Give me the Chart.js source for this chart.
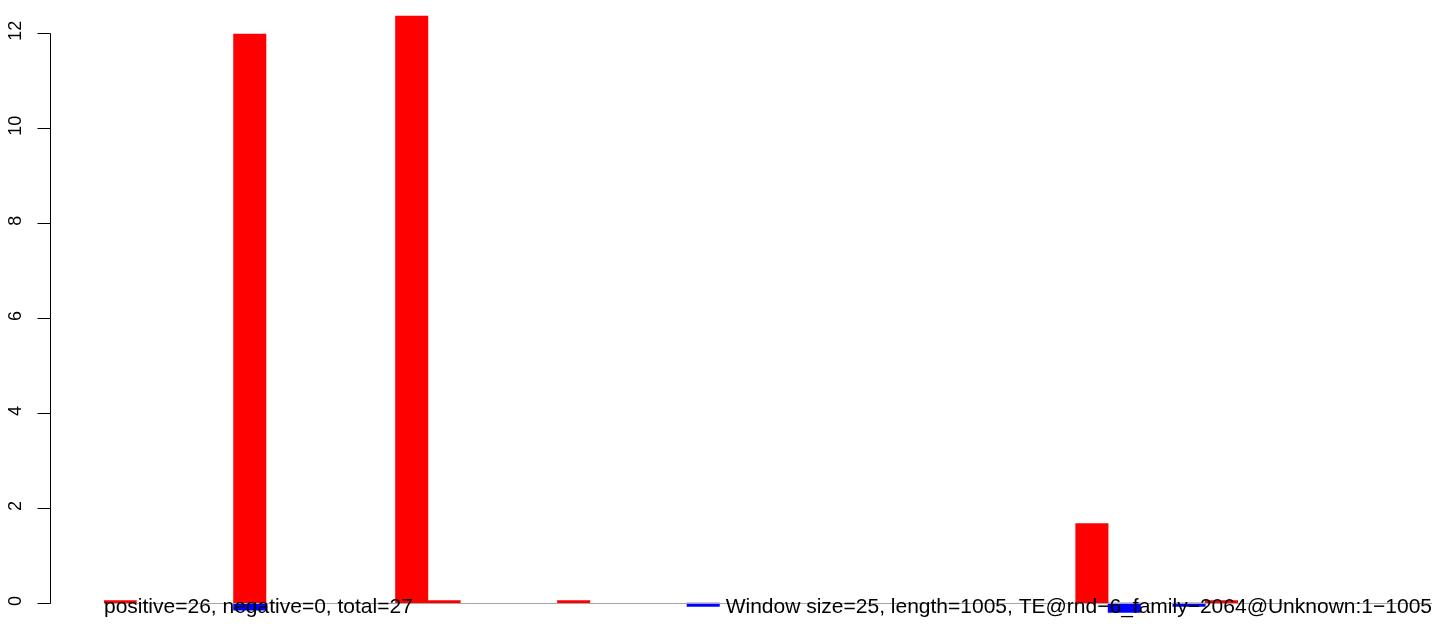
<!DOCTYPE html>
<html lang="en">
<head>
  <meta charset="UTF-8" />
  <title>Window scores</title>
  <script src="https://cdn.jsdelivr.net/npm/chart.js"></script>
  <style>
    html, body { margin: 0; padding: 0; background: #fff; }
    #wrap { width: 1444px; height: 624px; position: relative; }
  </style>
</head>
<body>
  <div id="wrap"><canvas id="scoreChart" width="1444" height="624"></canvas></div>

  <script>
    // one slot per window (41 windows of size 25 over 1005 positions)
    const windows = Array.from({ length: 41 }, (_, i) => "w" + (i + 1));
    const positiveScores = [
      0.05, 0, 0, 0, 11.97, 0, 0, 0, 0, 12.35,
      0.05, 0, 0, 0, 0.05, 0, 0, 0, 0, 0,
      0, 0, 0, 0, 0, 0, 0, 0, 0, 0,
      1.67, 0, 0, 0, 0.05, 0, 0, 0, 0, 0,
      0
    ];
    const negativeScores = [
      0, 0, 0, 0, -0.15, 0, 0, 0, 0, 0,
      0, 0, 0, 0, 0, 0, 0, 0, -0.07, 0,
      0, 0, 0, 0, 0, 0, 0, 0, 0, 0,
      0, -0.2, 0, -0.07, 0, 0, 0, 0, 0, 0,
      0
    ];
    const yTicks = [0, 2, 4, 6, 8, 10, 12];
    const leftLabel = "positive=26, negative=0, total=27";
    const rightLabel = "Window size=25, length=1005, TE@rnd\u22126_family\u22122064@Unknown:1\u22121005";

    const TICK_FONT = "18px 'Liberation Sans', Arial, sans-serif";
    const TEXT_FONT = "21px 'Liberation Sans', Arial, sans-serif";

    // empty windows draw nothing
    const noZero = arr => arr.map(v => (v === 0 ? null : v));

    // R-style axis, zero line and bottom captions
    const rDecor = {
      id: "rDecor",
      afterDatasetsDraw(chart) {
        const { ctx, chartArea, scales } = chart;
        const y = scales.y;
        const y0 = Math.round(y.getPixelForValue(0)) + 0.5;
        ctx.save();
        ctx.strokeStyle = "#a6a6a6";
        ctx.lineWidth = 1;
        ctx.beginPath();
        ctx.moveTo(chartArea.left, y0);
        ctx.lineTo(chartArea.right, y0);
        ctx.stroke();
        ctx.restore();
      },
      afterDraw(chart) {
        const { ctx, chartArea, scales } = chart;
        const y = scales.y;
        const axisX = 50.5;
        ctx.save();
        ctx.strokeStyle = "#000";
        ctx.lineWidth = 1;
        const top = Math.round(y.getPixelForValue(yTicks[yTicks.length - 1])) + 0.5;
        const bot = Math.round(y.getPixelForValue(yTicks[0])) + 0.5;
        ctx.beginPath();
        ctx.moveTo(axisX, top);
        ctx.lineTo(axisX, bot);
        yTicks.forEach(t => {
          const py = Math.round(y.getPixelForValue(t)) + 0.5;
          ctx.moveTo(axisX, py);
          ctx.lineTo(axisX - 13, py);
        });
        ctx.stroke();

        ctx.fillStyle = "#000";
        ctx.font = TICK_FONT;
        ctx.textAlign = "center";
        ctx.textBaseline = "alphabetic";
        yTicks.forEach(t => {
          const py = y.getPixelForValue(t) - 2;
          ctx.save();
          ctx.translate(21, py);
          ctx.rotate(-Math.PI / 2);
          ctx.fillText(String(t), 0, 0);
          ctx.restore();
        });

        ctx.font = TEXT_FONT;
        ctx.textAlign = "left";
        ctx.fillText(leftLabel, chartArea.left, 613);
        ctx.textAlign = "right";
        ctx.fillText(rightLabel, chartArea.right, 613);
        ctx.restore();
      }
    };

    const ctx = document.getElementById("scoreChart").getContext("2d");
    new Chart(ctx, {
      type: "bar",
      data: {
        labels: windows,
        datasets: [
          {
            label: "positive",
            data: noZero(positiveScores),
            backgroundColor: "#ff0000",
            borderWidth: 0,
            categoryPercentage: 1,
            barPercentage: 1
          },
          {
            label: "negative",
            data: noZero(negativeScores),
            backgroundColor: "#0000ff",
            borderWidth: 0,
            categoryPercentage: 1,
            barPercentage: 1
          }
        ]
      },
      options: {
        responsive: false,
        animation: false,
        layout: { padding: { left: 104, right: 12, top: 9, bottom: 2 } },
        plugins: {
          legend: { display: false },
          tooltip: { enabled: false }
        },
        scales: {
          x: { stacked: true, display: false, grid: { display: false } },
          y: { stacked: true, display: false, min: -0.4, max: 12.5 }
        }
      },
      plugins: [rDecor]
    });
  </script>
</body>
</html>
